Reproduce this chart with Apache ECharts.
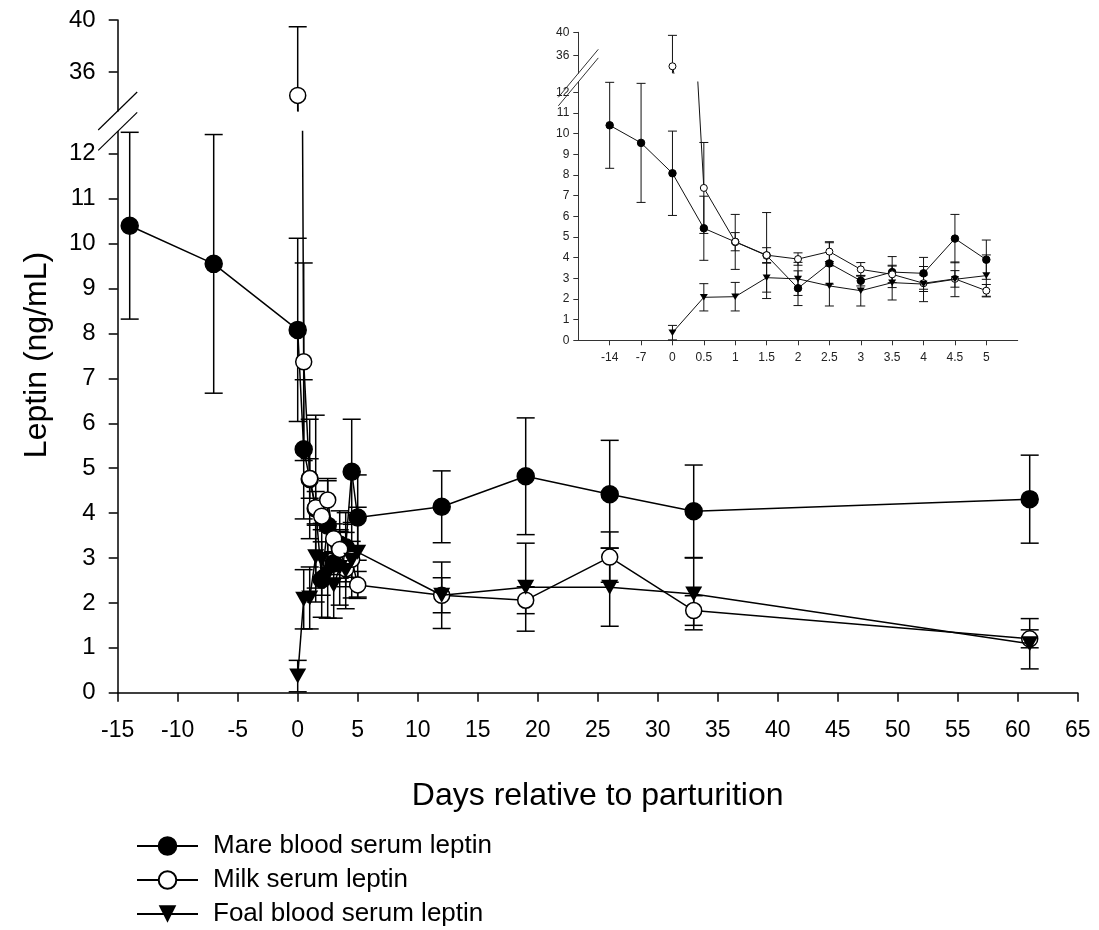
<!DOCTYPE html>
<html>
<head>
<meta charset="utf-8">
<title>Leptin around parturition</title>
<script src="https://cdn.jsdelivr.net/npm/echarts@6/dist/echarts.min.js"></script>
<style>
  html, body { margin: 0; padding: 0; background: #fff; }
  #chart { width: 1099px; height: 930px; }
</style>
</head>
<body>
<div id="chart"></div>
<script>
// Sampling days relative to parturition
const days = [-14, -7, 0, 0.5, 1, 1.5, 2, 2.5, 3, 3.5, 4, 4.5, 5, 12, 19, 26, 33, 61];

// Mean leptin (ng/mL) and error-bar half widths
const mare   = [10.4, 9.55, 8.08, 5.42, 4.76, 4.1, 2.52, 3.72, 2.88, 3.3, 3.24, 4.92, 3.9, 4.14, 4.82, 4.42, 4.04, 4.31];
const mareSD = [2.08, 2.88, 2.04, 1.55, 1.33, 2.08, 0.84, 1.0, 0.25, 0.75, 0.77, 1.17, 0.95, 0.8, 1.3, 1.2, 1.03, 0.98];
const milk   = [null, null, 34.2, 7.37, 4.77, 4.12, 3.93, 4.29, 3.43, 3.19, 2.76, 2.97, 2.4, 2.17, 2.06, 3.02, 1.83, 1.2];
const milkSD = [null, null, 5.28, 2.2, 0.44, 0.36, 0.3, 0.48, 0.33, 0.4, 0.4, 0.4, 0.3, 0.39, 0.3, 0.56, 0.33, 0.2];
const foal   = [null, null, 0.37, 2.08, 2.11, 3.03, 2.97, 2.63, 2.4, 2.79, 2.72, 2.95, 3.13, 2.17, 2.35, 2.35, 2.2, 1.09];
const foalSD = [null, null, 0.35, 0.66, 0.69, 0.7, 0.8, 0.97, 0.74, 0.84, 0.85, 0.84, 1.0, 0.74, 0.98, 0.87, 0.8, 0.56];

// Inset: the first 13 sampling days on an evenly spaced axis
const insetLabels = ['-14', '-7', '0', '0.5', '1', '1.5', '2', '2.5', '3', '3.5', '4', '4.5', '5'];

// Axis tick values on both sides of the y-axis break
const lowerTicks = [0, 1, 2, 3, 4, 5, 6, 7, 8, 9, 10, 11, 12];
const upperTicks = [36, 40];
const lowerRange = [0, 12.5];
const upperRange = [33, 40];

const seriesNames = ['Mare blood serum leptin', 'Milk serum leptin', 'Foal blood serum leptin'];

const FONT = "'Liberation Sans', Arial, Helvetica, sans-serif";

// Layout of the main panel and the inset (pixels)
const main = { left: 117.7, right: 1077.7, upTop: 20, upBottom: 111, lowTop: 131.4, lowBottom: 692.7 };
const inset = { left: 578.3, right: 1017.7, upTop: 32.3, upBottom: 73.3, lowTop: 81.9, lowBottom: 340.3 };

const chart = echarts.init(document.getElementById('chart'), null, { renderer: 'canvas' });

function grid(l, r, t, b) {
  return { left: l, top: t, width: r - l, height: b - t, containLabel: false };
}

function errorRenderer(half, width, color, yMin, yMax) {
  return function (params, api) {
    const x = api.value(0), m = api.value(1), sd = api.value(2);
    const lo = m - sd, hi = m + sd;
    const a = Math.max(lo, yMin), b = Math.min(hi, yMax);
    if (!(a <= b)) return;
    const p1 = api.coord([x, a]);
    const p2 = api.coord([x, b]);
    const style = { stroke: color, lineWidth: width };
    const children = [{ type: 'line', shape: { x1: p1[0], y1: p1[1], x2: p2[0], y2: p2[1] }, style: style }];
    [lo, hi].forEach(function (v) {
      if (v >= yMin && v <= yMax) {
        const p = api.coord([x, v]);
        children.push({ type: 'line', shape: { x1: p[0] - half, y1: p[1], x2: p[0] + half, y2: p[1] }, style: style });
      }
    });
    return { type: 'group', children: children };
  };
}

const values = [mare, milk, foal];
const sds = [mareSD, milkSD, foalSD];

function symbolStyle(k, big) {
  const bw = big ? 1.5 : 1;
  if (k === 0) return { symbol: 'circle', symbolSize: big ? 17 : 7.5, itemStyle: { color: '#000', borderColor: '#000', borderWidth: bw } };
  if (k === 1) return { symbol: 'circle', symbolSize: big ? 16 : 7, itemStyle: { color: '#fff', borderColor: '#000', borderWidth: bw } };
  return { symbol: 'triangle', symbolRotate: 180, symbolSize: big ? [17, 15] : [8, 6.5], itemStyle: { color: '#000', borderColor: '#000', borderWidth: 0 } };
}

// Panels: axis index, inset or main, y range
const panels = [
  { axis: 1, insetPanel: false, range: lowerRange },
  { axis: 0, insetPanel: false, range: upperRange },
  { axis: 3, insetPanel: true, range: lowerRange },
  { axis: 2, insetPanel: true, range: upperRange }
];

const series = [];
panels.forEach(function (p) {
  const n = p.insetPanel ? insetLabels.length : days.length;
  const lineColor = p.insetPanel ? '#111' : '#000';
  for (let k = 0; k < 3; k++) {
    const pts = [];
    const errs = [];
    for (let i = 0; i < n; i++) {
      const x = p.insetPanel ? i + 1 : days[i];
      const v = values[k][i];
      pts.push(v == null ? [x, null] : [x, v]);
      if (v != null) errs.push([x, v, sds[k][i]]);
    }
    series.push(Object.assign({
      name: seriesNames[k],
      type: 'line',
      xAxisIndex: p.axis,
      yAxisIndex: p.axis,
      data: pts,
      showAllSymbol: true,
      connectNulls: false,
      clip: true,
      z: 3 + k,
      animation: false,
      lineStyle: { color: lineColor, width: p.insetPanel ? 1 : 1.5 },
      emphasis: { disabled: true }
    }, symbolStyle(k, !p.insetPanel)));
    series.push({
      type: 'custom',
      xAxisIndex: p.axis,
      yAxisIndex: p.axis,
      data: errs,
      z: 1,
      animation: false,
      silent: true,
      renderItem: errorRenderer(p.insetPanel ? 4.5 : 9, p.insetPanel ? 1 : 1.5, lineColor, p.range[0], p.range[1])
    });
  }
});

function yAxis(gridIndex, range, ticks, opts) {
  return {
    type: 'value', gridIndex: gridIndex, min: range[0], max: range[1],
    axisLine: { show: true, onZero: false, lineStyle: { color: opts.color, width: opts.width } },
    axisTick: { show: true, inside: false, length: opts.tick, customValues: ticks, lineStyle: { color: opts.color, width: opts.width } },
    axisLabel: { customValues: ticks, fontSize: opts.font, color: opts.text, fontFamily: FONT, margin: opts.margin },
    splitLine: { show: false }
  };
}

const mainAxis = { color: '#000', width: 1.5, tick: 9, font: 24, text: '#000', margin: 22 };
const insetAxis = { color: '#333', width: 1, tick: 5, font: 12, text: '#222', margin: 9 };

const option = {
  backgroundColor: '#fff',
  animation: false,
  textStyle: { fontFamily: FONT },
  grid: [
    grid(main.left, main.right, main.upTop, main.upBottom),
    grid(main.left, main.right, main.lowTop, main.lowBottom),
    grid(inset.left, inset.right, inset.upTop, inset.upBottom),
    grid(inset.left, inset.right, inset.lowTop, inset.lowBottom)
  ],
  xAxis: [
    { type: 'value', gridIndex: 0, min: -15, max: 65, interval: 5, show: false },
    {
      type: 'value', gridIndex: 1, min: -15, max: 65, interval: 5,
      axisLine: { show: true, onZero: false, lineStyle: { color: '#000', width: 1.5 } },
      axisTick: { show: true, length: 9, lineStyle: { color: '#000', width: 1.5 } },
      axisLabel: { fontSize: 23, color: '#000', fontFamily: FONT, margin: 26 },
      splitLine: { show: false },
      name: 'Days relative to parturition',
      nameLocation: 'middle',
      nameGap: 87,
      nameTextStyle: { fontSize: 32, color: '#000', fontFamily: FONT }
    },
    { type: 'value', gridIndex: 2, min: 0, max: 14, show: false },
    {
      type: 'value', gridIndex: 3, min: 0, max: 14,
      axisLine: { show: true, onZero: false, lineStyle: { color: '#333', width: 1 } },
      axisTick: { show: true, length: 5, customValues: [1, 2, 3, 4, 5, 6, 7, 8, 9, 10, 11, 12, 13], lineStyle: { color: '#333', width: 1 } },
      axisLabel: {
        customValues: [1, 2, 3, 4, 5, 6, 7, 8, 9, 10, 11, 12, 13],
        formatter: function (v) { return insetLabels[Math.round(v) - 1] || ''; },
        fontSize: 12, color: '#222', fontFamily: FONT, margin: 11
      },
      splitLine: { show: false }
    }
  ],
  yAxis: [
    yAxis(0, upperRange, upperTicks, mainAxis),
    yAxis(1, lowerRange, lowerTicks, mainAxis),
    yAxis(2, upperRange, upperTicks, insetAxis),
    yAxis(3, lowerRange, lowerTicks, insetAxis)
  ],
  legend: {
    orient: 'vertical',
    left: 136,
    top: 831,
    height: 120,
    padding: 0,
    itemWidth: 61,
    itemHeight: 22,
    itemGap: 4,
    selectedMode: false,
    data: seriesNames,
    textStyle: { fontSize: 26, color: '#000', fontFamily: FONT, lineHeight: 30, padding: [0, 0, 0, 10] }
  },
  graphic: [
    {
      type: 'text', x: 37, y: 355, rotation: Math.PI / 2,
      style: { text: 'Leptin (ng/mL)', fontSize: 32, fontFamily: FONT, fill: '#000', textAlign: 'center', textVerticalAlign: 'middle' }
    },
    // axis-break marks on the main y axis
    { type: 'line', shape: { x1: main.left - 19.5, y1: main.upBottom + 19, x2: main.left + 19.5, y2: main.upBottom - 19 }, style: { stroke: '#000', lineWidth: 1.2 } },
    { type: 'line', shape: { x1: main.left - 19.5, y1: main.lowTop + 19, x2: main.left + 19.5, y2: main.lowTop - 19 }, style: { stroke: '#000', lineWidth: 1.2 } },
    // axis-break marks on the inset y axis
    { type: 'line', shape: { x1: inset.left - 20, y1: inset.upBottom + 24, x2: inset.left + 20, y2: inset.upBottom - 24 }, style: { stroke: '#333', lineWidth: 1 } },
    { type: 'line', shape: { x1: inset.left - 20, y1: inset.lowTop + 24, x2: inset.left + 20, y2: inset.lowTop - 24 }, style: { stroke: '#333', lineWidth: 1 } }
  ],
  series: series
};

chart.setOption(option);
</script>
</body>
</html>
